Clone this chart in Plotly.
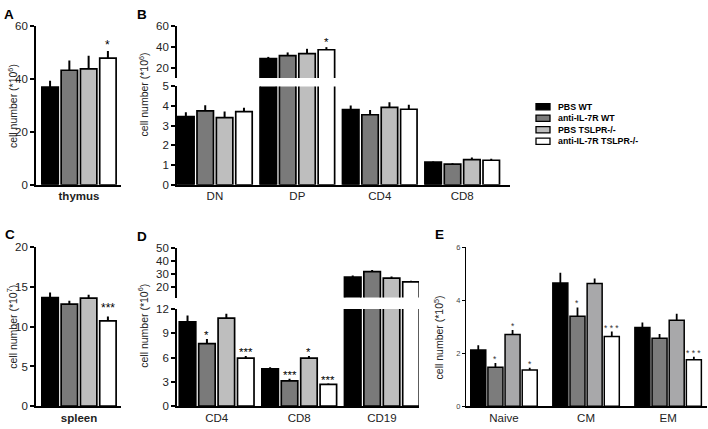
import plotly.graph_objects as go

# ---------------- data ----------------
groups = ["PBS WT", "anti-IL-7R WT", "PBS TSLPR-/-", "anti-IL-7R TSLPR-/-"]

# Panel A: thymus total (x10^6)
thymus_mean = [37.0, 43.4, 43.9, 48.0]
thymus_err = [2.4, 3.7, 5.0, 2.7]
thymus_sig = ["", "", "", "*"]

# Panel B: thymocyte subsets (x10^6)
subset_cats = ["DN", "DP", "CD4", "CD8"]
subset_mean = [
    [3.47, 28.7, 3.82, 1.15],
    [3.76, 31.5, 3.56, 1.05],
    [3.41, 33.4, 3.93, 1.28],
    [3.72, 37.2, 3.84, 1.25],
]
subset_err = [
    [0.22, 1.6, 0.21, 0.03],
    [0.28, 3.1, 0.24, 0.05],
    [0.31, 4.7, 0.27, 0.11],
    [0.20, 2.5, 0.23, 0.08],
]
subset_sig = [["", "", "", ""], ["", "", "", ""], ["", "", "", ""], ["", "*", "", ""]]

# Panel C: spleen total (x10^7)
spleen_mean = [13.67, 12.85, 13.6, 10.73]
spleen_err = [0.63, 0.42, 0.42, 0.57]
spleen_sig = ["", "", "", "***"]

# Panel D: spleen subsets (x10^6)
spl_cats = ["CD4", "CD8", "CD19"]
spl_mean = [
    [10.4, 4.6, 27.7],
    [7.73, 3.12, 31.9],
    [10.88, 5.93, 27.0],
    [5.93, 2.69, 24.0],
]
spl_err = [
    [0.8, 0.2, 1.3],
    [0.55, 0.28, 1.2],
    [0.52, 0.27, 1.2],
    [0.27, 0.11, 0.9],
]
spl_sig = [["", "", ""], ["*", "***", ""], ["", "*", ""], ["***", "***", ""]]

# Panel E: memory subsets (x10^5)
mem_cats = ["Naive", "CM", "EM"]
mem_mean = [
    [2.12, 4.65, 2.97],
    [1.47, 3.40, 2.57],
    [2.71, 4.63, 3.25],
    [1.37, 2.63, 1.75],
]
mem_err = [
    [0.18, 0.39, 0.19],
    [0.16, 0.33, 0.16],
    [0.17, 0.19, 0.24],
    [0.08, 0.19, 0.12],
]
mem_sig = [["", "", ""], ["*", "*", ""], ["*", "", ""], ["*", "* * *", "* * *"]]

# ---------------- style ----------------
FONT = "Liberation Sans, Arial, sans-serif"
colors = ["#000000", "#7a7a7a", "#bebebe", "#ffffff"]
colors_E = ["#000000", "#7c7c7c", "#a8a8aa", "#ffffff"]
W, S = 0.2, 0.235      # bar width / slot (x units)
WE, SE = 0.183, 0.209

fig = go.Figure()


def bar_off(k, w, s):
    return -(3 * s + w) / 2 + k * s


def add_panel(xa, ya, means, errs, cols, w, s, lw=1.7, eth=2):
    n = len(means[0])
    xs = list(range(n))
    for k in range(4):
        fig.add_trace(go.Bar(
            x=xs, y=means[k], width=w, offset=bar_off(k, w, s),
            xaxis=xa, yaxis=ya, name=groups[k], showlegend=False,
            marker=dict(color=cols[k], line=dict(color="black", width=lw)),
            error_y=dict(type="data", array=errs[k], arrayminus=[0] * n,
                         symmetric=False, color="black", thickness=eth, width=0),
            hoverinfo="skip",
        ))


def add_stars(xref, yref_fn, means, errs, sig, w, s, size, yshift, color="#000000"):
    for k in range(4):
        for i in range(len(means[k])):
            if sig[k][i]:
                v = means[k][i] + errs[k][i]
                fig.add_annotation(
                    x=i + bar_off(k, w, s) + w / 2, y=v, xref=xref, yref=yref_fn(v),
                    text=sig[k][i], showarrow=False, yanchor="bottom", xanchor="center",
                    yshift=yshift, font=dict(size=size, color=color, family=FONT))


# A
add_panel("x", "y", [[m] for m in thymus_mean], [[e] for e in thymus_err], colors, W, S)
add_stars("x", lambda v: "y", [[m] for m in thymus_mean], [[e] for e in thymus_err],
          [[s] for s in thymus_sig], W, S, 12, -3)
# B (broken axis: lower + upper)
add_panel("x2", "y2", subset_mean, subset_err, colors, W, S)
add_panel("x3", "y3", subset_mean, subset_err, colors, W, S)
add_stars("x2", lambda v: "y3" if v > 5 else "y2", subset_mean, subset_err, subset_sig, W, S, 11.5, -3)
# C
add_panel("x4", "y4", [[m] for m in spleen_mean], [[e] for e in spleen_err], colors, W, S)
add_stars("x4", lambda v: "y4", [[m] for m in spleen_mean], [[e] for e in spleen_err],
          [[s] for s in spleen_sig], W, S, 12, -1)
# D (broken axis)
add_panel("x5", "y5", spl_mean, spl_err, colors, W, S)
add_panel("x6", "y6", spl_mean, spl_err, colors, W, S)
add_stars("x5", lambda v: "y6" if v > 12 else "y5", spl_mean, spl_err, spl_sig, W, S, 11.5, -4)
# E
add_panel("x7", "y7", mem_mean, mem_err, colors_E, WE, SE, lw=1.5, eth=1.8)
add_stars("x7", lambda v: "y7", mem_mean, mem_err, mem_sig, WE, SE, 8.5, -3, color="#333333")

# ---------------- axes ----------------
ycom = dict(showline=True, linecolor="black", linewidth=1.6, ticks="outside", ticklen=4,
            tickwidth=1.5, tickcolor="black", showgrid=False, zeroline=False,
            tickfont=dict(size=11.5, color="#222", family=FONT))
xcom = dict(showline=True, linecolor="black", linewidth=1.6, ticks="", showgrid=False,
            zeroline=False, tickfont=dict(size=11.5, color="#222", family=FONT))


def px_x(p):
    return p / 708


def px_y(p):
    return 1 - p / 429


A_dom = [px_x(36), px_x(121)]
B_dom = [px_x(177), px_x(510)]
D_dom = [px_x(177), px_x(419)]
E_dom = [px_x(466), px_x(706.7)]

fig.update_layout(
    xaxis=dict(xcom, domain=A_dom, range=[-0.524, 0.512], anchor="y",
               tickvals=[0], ticktext=["<b>thymus</b>"]),
    yaxis=dict(ycom, domain=[px_y(184), px_y(21)], range=[0, 60], tickvals=[0, 20, 40, 60], anchor="x"),
    xaxis2=dict(xcom, domain=B_dom, range=[-0.46, 3.58], anchor="y2",
                tickvals=list(range(len(subset_cats))), ticktext=subset_cats),
    yaxis2=dict(ycom, domain=[px_y(184), px_y(82.7)], range=[0, 5], tickvals=[0, 1, 2, 3, 4, 5], anchor="x2"),
    xaxis3=dict(domain=B_dom, range=[-0.46, 3.58], anchor="y3", visible=False),
    yaxis3=dict(ycom, domain=[px_y(74), px_y(20.7)], range=[10, 60], tickvals=[20, 40, 60], anchor="x3"),
    xaxis4=dict(xcom, domain=A_dom, range=[-0.524, 0.512], anchor="y4",
                tickvals=[0], ticktext=["<b>spleen</b>"]),
    yaxis4=dict(ycom, domain=[px_y(411.7), px_y(248.3)], range=[0, 20], tickvals=[0, 5, 10, 15, 20], anchor="x4"),
    xaxis5=dict(xcom, domain=D_dom, range=[-0.48, 2.45], anchor="y5",
                tickvals=list(range(len(spl_cats))), ticktext=spl_cats),
    yaxis5=dict(ycom, domain=[px_y(411.7), px_y(311.7)], range=[0, 12], tickvals=[0, 3, 6, 9, 12], anchor="x5"),
    xaxis6=dict(domain=D_dom, range=[-0.48, 2.45], anchor="y6", visible=False),
    yaxis6=dict(ycom, domain=[px_y(300), px_y(249)], range=[12, 50], tickvals=[20, 30, 40, 50], anchor="x6"),
    xaxis7=dict(xcom, domain=E_dom, range=[-0.463, 2.47], anchor="y7",
                tickvals=list(range(len(mem_cats))), ticktext=mem_cats),
    yaxis7=dict(ycom, domain=[px_y(411.7), px_y(248.3)], range=[0, 6], tickvals=[0, 2, 4, 6], anchor="x7",
                tickfont=dict(size=7.5, color="#444", family=FONT), ticklen=3, tickwidth=1.2, linewidth=1.4),
)

# axis titles
titles = [
    (12, 103, "cell number (*10<sup>6</sup>)"),
    (143, 91, "cell number (*10<sup>6</sup>)"),
    (12, 330, "cell number (*10<sup>7</sup>)"),
    (143, 329, "cell number (*10<sup>6</sup>)"),
    (438, 341, "cell number (*10<sup>5</sup>)"),
]
for x, y, t in titles:
    fig.add_annotation(x=px_x(x), y=px_y(y), xref="paper", yref="paper", text=t, textangle=-90,
                       showarrow=False, xanchor="center", yanchor="middle",
                       font=dict(size=10.5, color="#222", family=FONT))

# panel letters
for x, y, t in [(2, 8.5, "A"), (135, 8.5, "B"), (3, 235, "C"), (135, 237, "D"), (433, 235, "E")]:
    fig.add_annotation(x=px_x(x), y=px_y(y), xref="paper", yref="paper", text="<b>" + t + "</b>",
                       showarrow=False, xanchor="left", yanchor="middle",
                       font=dict(size=13.5, color="black", family=FONT))

# legend (drawn as key boxes + labels)
rows = [103.7, 115.5, 127.3, 139.1]
for k, yc in enumerate(rows):
    fig.add_shape(type="rect", xref="paper", yref="paper",
                  x0=px_x(536), x1=px_x(550), y0=px_y(yc + 3.2), y1=px_y(yc - 3.2),
                  fillcolor=colors[k], line=dict(color="black", width=1.3))
    fig.add_annotation(x=px_x(556), y=px_y(yc), xref="paper", yref="paper",
                       text="<b>" + groups[k] + "</b>", showarrow=False,
                       xanchor="left", yanchor="middle",
                       font=dict(size=8.8, color="black", family=FONT))

fig.update_layout(
    width=708, height=429, margin=dict(l=0, r=0, t=0, b=0),
    paper_bgcolor="white", plot_bgcolor="white", showlegend=False,
    font=dict(family=FONT, color="#222"),
)

fig.write_html(
    "out.html",
    config={"displayModeBar": False},
    post_script="document.body.style.margin='0px';document.body.style.overflow='hidden';",
)
